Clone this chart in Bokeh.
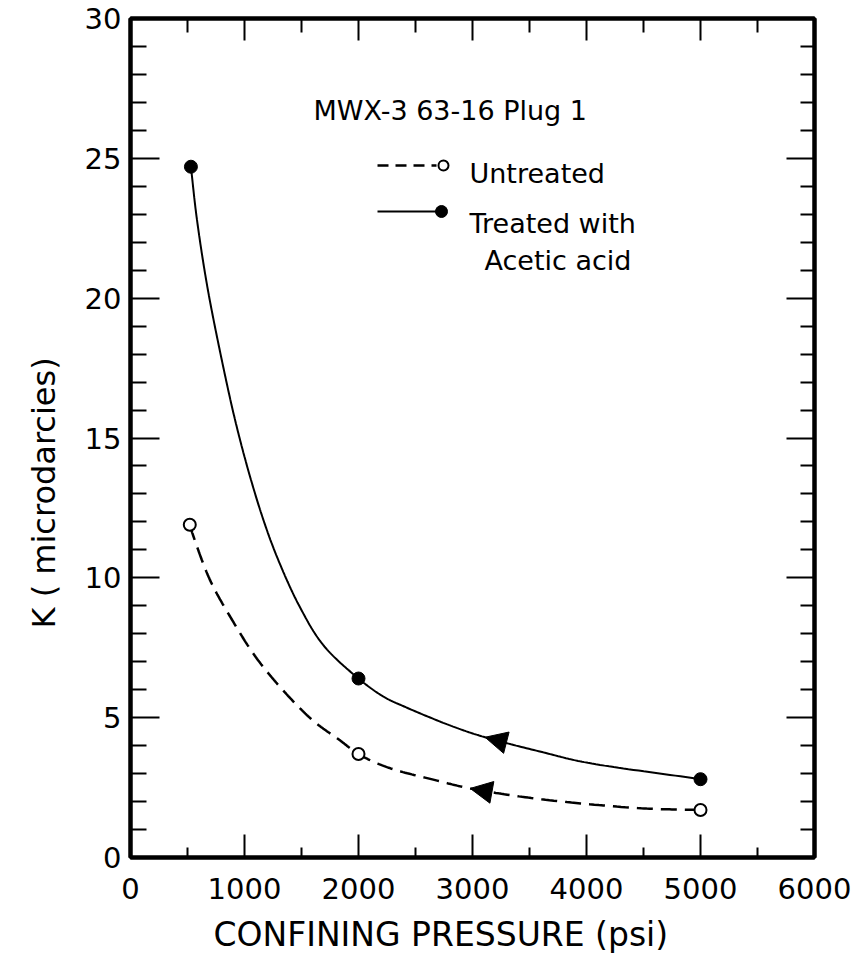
import numpy as np
from bokeh.plotting import figure
from bokeh.models import (Range1d, LinearAxis, FixedTicker, Label, Arrow,
                          NormalHead, Title, CustomJSTickFormatter)
from bokeh.embed import file_html
from bokeh.resources import INLINE

# Permeability measurements, MWX-3 63-16 plug 1
pressure_untreated = [520, 2000, 5000]          # psi
k_untreated = [11.9, 3.7, 1.7]                  # microdarcies
pressure_treated = [530, 2000, 5000]            # psi
k_treated = [24.7, 6.4, 2.8]                    # microdarcies

# Hand-faired curves drawn through the measurements
curve_untreated_p = [520, 555, 700, 895, 1100, 1340, 1600, 1840, 2000,
                     2250, 2690, 2980, 3570, 4480, 5000]
curve_untreated_k = [11.9, 11.45, 9.9, 8.47, 7.16, 5.97, 4.9, 4.18, 3.7,
                     3.23, 2.75, 2.47, 2.10, 1.76, 1.7]
curve_treated_p = [530, 580, 670, 790, 920, 1050, 1180, 1300, 1480, 1690,
                   2000, 2220, 2400, 2830, 3110, 3620, 3980, 5000]
curve_treated_k = [24.7, 22.9, 20.5, 18.0, 15.6, 13.6, 11.9, 10.6, 9.0, 7.6,
                   6.4, 5.75, 5.4, 4.68, 4.30, 3.76, 3.41, 2.8]

# Direction-of-travel arrowheads on each curve: (tail, tip) in psi / microdarcies
arrow_treated_p = [3340, 3110]
arrow_treated_k = [4.06, 4.30]
arrow_untreated_p = [3250, 2980]
arrow_untreated_k = [2.27, 2.47]

# Axis ticks
x_major = [0, 1000, 2000, 3000, 4000, 5000, 6000]
x_minor = [500, 1500, 2500, 3500, 4500, 5500]
y_major = [0, 5, 10, 15, 20, 25, 30]
y_minor = [v for v in range(0, 31) if v % 5]

FONT = "DejaVu Sans"
X_MAX, Y_MAX = 6000, 30
FRAME_W, FRAME_H = 684, 839


def faired(xs, ys, samples=24):
    """Smooth rendering path (centripetal Catmull-Rom) through the given
    points, evaluated in an isotropic frame so the bends look even."""
    sx, sy = FRAME_W / X_MAX, FRAME_H / Y_MAX
    pts = np.column_stack([np.asarray(xs, float) * sx, np.asarray(ys, float) * sy])
    ext = np.vstack([2 * pts[0] - pts[1], pts, 2 * pts[-1] - pts[-2]])
    out = []
    for i in range(len(pts) - 1):
        p0, p1, p2, p3 = ext[i], ext[i + 1], ext[i + 2], ext[i + 3]
        t0 = 0.0
        t1 = t0 + np.linalg.norm(p1 - p0) ** 0.5
        t2 = t1 + np.linalg.norm(p2 - p1) ** 0.5
        t3 = t2 + np.linalg.norm(p3 - p2) ** 0.5
        for t in np.linspace(t1, t2, samples, endpoint=False):
            a1 = (t1 - t) / (t1 - t0) * p0 + (t - t0) / (t1 - t0) * p1
            a2 = (t2 - t) / (t2 - t1) * p1 + (t - t1) / (t2 - t1) * p2
            a3 = (t3 - t) / (t3 - t2) * p2 + (t - t2) / (t3 - t2) * p3
            b1 = (t2 - t) / (t2 - t0) * a1 + (t - t0) / (t2 - t0) * a2
            b2 = (t3 - t) / (t3 - t1) * a2 + (t - t1) / (t3 - t1) * a3
            out.append((t2 - t) / (t2 - t1) * b1 + (t - t1) / (t2 - t1) * b2)
    out.append(pts[-1])
    out = np.array(out)
    return out[:, 0] / sx, out[:, 1] / sy


p = figure(width=855, height=968,
           x_range=Range1d(0, X_MAX), y_range=Range1d(0, Y_MAX),
           output_backend="svg", toolbar_location=None,
           min_border_left=130, min_border_right=41,
           min_border_top=18, min_border_bottom=111)
p.grid.visible = False
p.outline_line_color = "black"
p.outline_line_width = 4
p.background_fill_color = "white"
p.border_fill_color = "white"

# pixel-space ranges for the key drawn inside the frame
p.extra_x_ranges = {"px": Range1d(0, FRAME_W)}
p.extra_y_ranges = {"px": Range1d(0, FRAME_H)}

blank = CustomJSTickFormatter(code="return ''")


def style_axis(ax, major_in, minor_in, show_labels):
    ax.axis_line_width = 4
    ax.axis_line_color = "black"
    ax.major_tick_in = major_in
    ax.major_tick_out = 0
    ax.minor_tick_in = minor_in
    ax.minor_tick_out = 0
    ax.major_tick_line_width = 2
    ax.minor_tick_line_width = 2
    ax.major_tick_line_color = "black"
    ax.minor_tick_line_color = "black"
    ax.major_label_text_font = FONT
    ax.major_label_text_color = "black"
    ax.major_label_text_font_size = "29px"
    if not show_labels:
        ax.formatter = blank


bottom = p.xaxis[0]
bottom.ticker = FixedTicker(ticks=x_major, minor_ticks=x_minor)
style_axis(bottom, 23, 10, True)
bottom.major_label_standoff = 20

left = p.yaxis[0]
left.ticker = FixedTicker(ticks=y_major, minor_ticks=y_minor)
style_axis(left, 29, 16, True)
left.major_label_standoff = 9

top = LinearAxis(ticker=FixedTicker(ticks=x_major, minor_ticks=x_minor))
style_axis(top, 22, 14, False)
p.add_layout(top, "above")

right = LinearAxis(ticker=FixedTicker(ticks=y_major, minor_ticks=y_minor))
style_axis(right, 28, 14, False)
p.add_layout(right, "right")

# axis titles
p.add_layout(Title(text="CONFINING PRESSURE (psi)", align="left", offset=83,
                   standoff=22, text_font=FONT, text_font_size="33px",
                   text_font_style="normal", text_color="black"), "below")
p.add_layout(Title(text="K ( microdarcies)", align="left", offset=229,
                   standoff=38, text_font=FONT, text_font_size="32px",
                   text_font_style="normal", text_color="black"), "left")

# curves
ux, uy = faired(curve_untreated_p, curve_untreated_k)
tx, ty = faired(curve_treated_p, curve_treated_k)
p.line(ux, uy, line_color="black", line_width=2.5, line_dash="16 8")
p.line(tx, ty, line_color="black", line_width=2)

# measured points
p.scatter(pressure_untreated, k_untreated, marker="circle", size=12,
          fill_color="white", line_color="black", line_width=2)
p.scatter(pressure_treated, k_treated, marker="circle", size=13,
          fill_color="black", line_color="black")

# arrowheads
for ap, ak in ((arrow_treated_p, arrow_treated_k),
               (arrow_untreated_p, arrow_untreated_k)):
    p.add_layout(Arrow(x_start=ap[0], y_start=ak[0], x_end=ap[1], y_end=ak[1],
                       line_alpha=0,
                       end=NormalHead(size=22, fill_color="black",
                                      line_color="black", line_width=1)))

# key swatches
p.line([247, 306], [692, 692], x_range_name="px", y_range_name="px",
       line_color="black", line_width=2.5, line_dash="11 7")
p.scatter([313], [692], x_range_name="px", y_range_name="px",
          marker="circle", size=10, fill_color="white", line_color="black",
          line_width=2)
p.line([247, 306], [646, 646], x_range_name="px", y_range_name="px",
       line_color="black", line_width=2)
p.scatter([311], [646], x_range_name="px", y_range_name="px",
          marker="circle", size=12, fill_color="black", line_color="black")


def add_text(x, y, text, size):
    p.add_layout(Label(x=x, y=y, x_units="screen", y_units="screen",
                       text=text, text_font=FONT, text_font_size=size,
                       text_color="black", text_align="left",
                       text_baseline="alphabetic"))


add_text(183, 747, "MWX-3 63-16  Plug 1", "27px")
add_text(339, 684, "Untreated", "27px")
add_text(339, 634, "Treated with", "27px")
add_text(354, 597, "Acetic acid", "27px")

open("out.html", "w").write(file_html(p, INLINE))
